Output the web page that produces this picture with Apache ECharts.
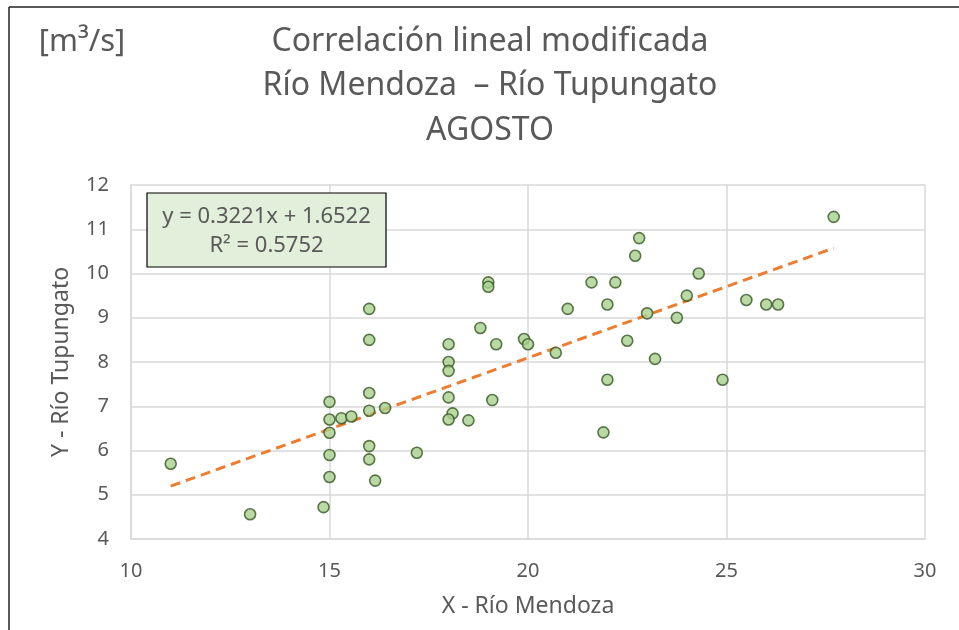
<!DOCTYPE html>
<html>
<head>
<meta charset="utf-8">
<script src="https://cdn.jsdelivr.net/npm/echarts@6/dist/echarts.min.js"></script>
<style>html,body{margin:0;padding:0;background:#fff}#c{width:959px;height:630px}</style>
</head>
<body>
<div id="c"></div>
<script>
var xMendoza = [11, 13, 14.85, 15, 15, 15, 15, 15, 15.3, 15.55, 16, 16, 16, 16, 16, 16, 16.15, 16.4, 17.2,
  27.7, 22.8, 22.7, 24.3, 19, 19, 21.6, 22.2, 22, 21, 24, 25.5, 26, 26.3, 23, 23.75, 18.8, 18, 19.2, 19.9, 20,
  22.5, 20.7, 23.2, 18, 18, 22, 24.9, 18, 19.1, 18.1, 18, 18.5, 21.9];
var yTupungato = [5.7, 4.56, 4.72, 5.4, 5.9, 6.4, 6.7, 7.1, 6.73, 6.77, 9.2, 8.5, 7.3, 6.9, 6.1, 5.8, 5.32, 6.96, 5.95,
  11.28, 10.8, 10.4, 10.0, 9.8, 9.7, 9.8, 9.8, 9.3, 9.2, 9.5, 9.4, 9.3, 9.3, 9.1, 9.0, 8.77, 8.4, 8.4, 8.52, 8.4,
  8.48, 8.21, 8.07, 8.0, 7.8, 7.6, 7.6, 7.2, 7.14, 6.84, 6.7, 6.68, 6.41];
var slope = 0.3221, intercept = 1.6522, r2 = 0.5752;
var titleLines = ['Correlación lineal modificada', 'Río Mendoza  \u2013 Río Tupungato', 'AGOSTO'];
var unitLabel = '[m\u00b3/s]';
var xAxisName = 'X - Río Mendoza';
var yAxisName = 'Y - Río Tupungato';

var pts = xMendoza.map(function (x, i) { return [x, yTupungato[i]]; });
var xMin = Math.min.apply(null, xMendoza), xMax = Math.max.apply(null, xMendoza);
var trend = [[xMin, slope * xMin + intercept], [xMax, slope * xMax + intercept]];

var FONT = "'Noto Sans', sans-serif";
var TXT = '#595959';
var chart = echarts.init(document.getElementById('c'), null, {renderer: 'canvas'});
chart.setOption({
  animation: false,
  backgroundColor: '#fff',
  textStyle: {fontFamily: FONT, color: TXT},
  grid: {left: 131, right: 34, top: 185, bottom: 91},
  xAxis: {
    type: 'value', min: 10, max: 30, interval: 5,
    name: xAxisName, nameLocation: 'middle', nameGap: 56,
    nameTextStyle: {fontSize: 23, color: TXT, fontFamily: FONT},
    axisLine: {show: true, lineStyle: {color: '#d9d9d9', width: 1.5}},
    axisTick: {show: false},
    axisLabel: {fontSize: 20, color: TXT, margin: 22, fontFamily: FONT},
    splitLine: {show: true, lineStyle: {color: '#d9d9d9', width: 1.5}}
  },
  yAxis: {
    type: 'value', min: 4, max: 12, interval: 1,
    name: yAxisName, nameLocation: 'middle', nameGap: 58,
    nameTextStyle: {fontSize: 23, color: TXT, fontFamily: FONT},
    axisLine: {show: true, lineStyle: {color: '#d9d9d9', width: 1.5}},
    axisTick: {show: false},
    axisLabel: {fontSize: 20, color: TXT, margin: 22, fontFamily: FONT},
    splitLine: {show: true, lineStyle: {color: '#d9d9d9', width: 1.5}}
  },
  series: [
    {
      type: 'line', data: trend, symbol: 'none', z: 3,
      lineStyle: {color: '#ED7D31', width: 3, type: [10, 6]}
    },
    {
      type: 'scatter', data: pts, symbol: 'circle', symbolSize: 11, z: 4,
      itemStyle: {color: '#A9D18E', borderColor: '#375623', borderWidth: 1.6}
    }
  ],
  graphic: [
    {type: 'line', shape: {x1: 9, y1: 7, x2: 959, y2: 7}, style: {stroke: '#222', lineWidth: 1.5}, silent: true},
    {type: 'line', shape: {x1: 9, y1: 7, x2: 9, y2: 630}, style: {stroke: '#222', lineWidth: 1.5}, silent: true},
    {type: 'rect', shape: {x: 147, y: 193, width: 239, height: 74},
      style: {fill: '#E2EFDA', stroke: '#000', lineWidth: 1.2}, z: 10},
    {type: 'text', x: 266.5, y: 217, z: 11,
      style: {text: 'y = ' + slope.toFixed(4) + 'x + ' + intercept.toFixed(4), fill: TXT, font: '22px ' + FONT, textAlign: 'center', textVerticalAlign: 'middle'}},
    {type: 'text', x: 266.5, y: 246, z: 11,
      style: {text: 'R\u00b2 = ' + r2.toFixed(4), fill: TXT, font: '22px ' + FONT, textAlign: 'center', textVerticalAlign: 'middle'}},
    {type: 'text', x: 82, y: 42, z: 11,
      style: {text: unitLabel, fill: TXT, font: '31px ' + FONT, textAlign: 'center', textVerticalAlign: 'middle'}},
    {type: 'text', x: 490, y: 42, z: 11,
      style: {text: titleLines[0], fill: TXT, font: '32px ' + FONT, textAlign: 'center', textVerticalAlign: 'middle'}},
    {type: 'text', x: 490, y: 86, z: 11,
      style: {text: titleLines[1], fill: TXT, font: '32px ' + FONT, textAlign: 'center', textVerticalAlign: 'middle'}},
    {type: 'text', x: 490, y: 131, z: 11,
      style: {text: titleLines[2], fill: TXT, font: '32px ' + FONT, textAlign: 'center', textVerticalAlign: 'middle'}}
  ]
});
</script>
</body>
</html>
